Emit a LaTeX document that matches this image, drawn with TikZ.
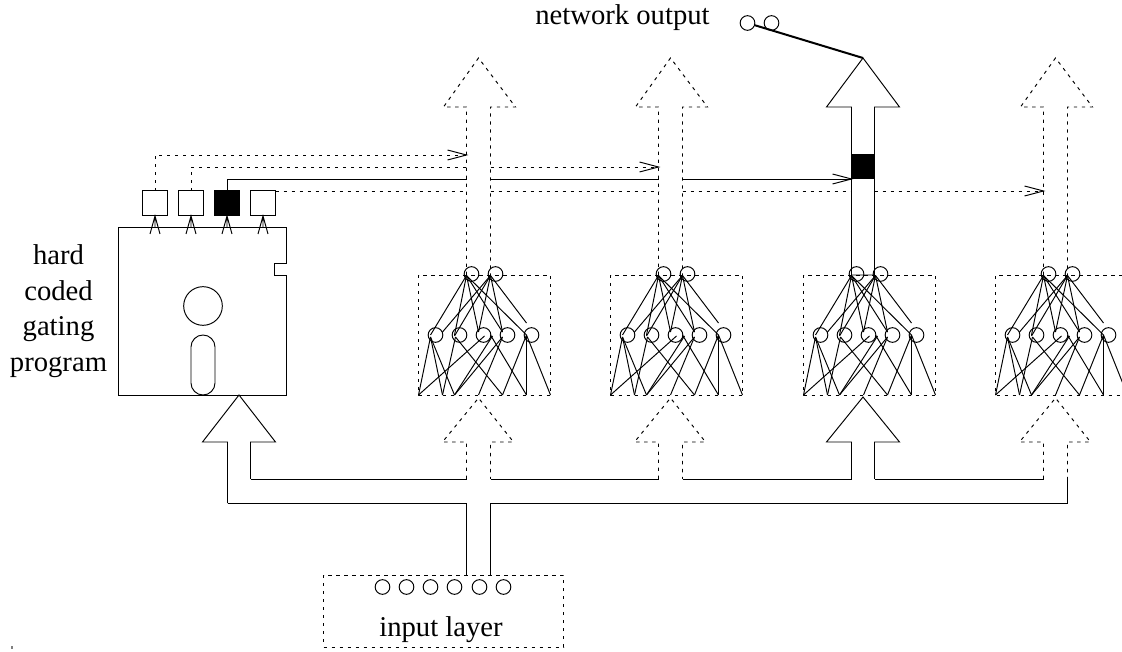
\documentclass[tikz,border=0pt]{standalone}
\usepackage{fontspec}
\setmainfont{Liberation Serif}
\tikzset{
  ln/.style={line width=0.72pt, line cap=butt, line join=miter},
  dsh/.style={ln, dash pattern=on 2.5pt off 3.5pt},
  neuron/.style={circle, draw, line width=0.72pt, minimum size=11pt, inner sep=0pt},
  sqbox/.style={draw, line width=0.8pt, minimum size=18.2pt, inner sep=0pt},
  lbl/.style={font=\fontsize{21.5pt}{26pt}\selectfont, inner sep=0pt, anchor=base}
}
\newcommand{\netblock}[2]{%
  \begin{scope}[xshift=#1*0.75pt]
    \foreach \i/\x in {a/53,b/77}{\node[neuron] (t#2\i) at (\x,274) {};}
    \foreach \i/\x in {a/17,b/41,c/65,d/89,e/113}{\node[neuron] (m#2\i) at (\x,335) {};}
    \coordinate (ta#2) at (48,275.5);
    \coordinate (tb#2) at (72,275.5);
    % upper connections
    \foreach \x/\y in {12/335,36/335,60/332,84/332,108/335}{\draw[ln] (ta#2) -- (\x,\y);}
    \foreach \x/\y in {24/332,36/336,60/332,84/332,108/323}{\draw[ln] (tb#2) -- (\x,\y);}
    % lower connections
    \foreach \ax/\ay/\bx in {12/337/0, 12/337/24, 12/337/36, 37/337/24, 37/337/84,
        66/336/0, 74/336/36, 84/337/36, 84/337/60, 72/335/108,
        108/335/84, 108/335/108, 108/335/132}{
      \draw[ln] (\ax,\ay) -- (\bx,395);
    }
  \end{scope}
}
\begin{document}
\begin{tikzpicture}[x=0.75pt,y=-0.75pt]
\useasboundingbox (-0.5,0) rectangle (1121.5,652);
% net boxes
\foreach \x in {418,610,803}{
  \draw[dsh] (\x,275) rectangle (\x+132,395);
}
\draw[dsh] (1122,275) -- (995,275) -- (995,395) -- (1122,395);
\netblock{418}{A}
\netblock{610}{B}
\netblock{803}{C}
\netblock{995}{D}
% upper arrows
\foreach \x in {466,658,1043}{
  \draw[dsh] (\x,275) -- (\x,107) -- (\x-23,107) -- (\x+12,58) -- (\x+49,107) -- (\x+24,107) -- (\x+24,275);
}
\draw[ln] (851,275) -- (851,107) -- (826,107) -- (862.5,58) -- (899,107) -- (874,107) -- (874,275) -- cycle;
% lower arrows
\foreach \x in {466,658,1043}{
  \draw[dsh] (\x,479) -- (\x,442) -- (\x-24,442) -- (\x+12,398) -- (\x+47,442) -- (\x+24,442) -- (\x+24,479);
}
\draw[ln] (851,479) -- (851,442) -- (826,442) -- (862.5,397) -- (899,442) -- (874,442) -- (874,479);
\draw[ln] (227,503) -- (227,442) -- (202,442) -- (238.5,395) -- (275,442) -- (250,442) -- (250,479);
% buses
\draw[ln] (250,479) -- (466,479) (490,479) -- (658,479) (682,479) -- (851,479) (874,479) -- (1043,479);
\draw[ln] (466,575) -- (466,503) -- (227,503);
\draw[ln] (490,575) -- (490,503) -- (1067,503) -- (1067,479);
% program disk
\draw[ln] (118,227) -- (286,227) -- (286,263) -- (274,263) -- (274,275) -- (286,275) -- (286,395) -- (118,395) -- cycle;
\node[circle,draw,line width=0.72pt,minimum size=29pt,inner sep=0pt] (hole) at (202.5,306) {};
\draw[ln,rounded corners=9pt] (190.5,335) rectangle (214.5,395);
% squares
\foreach \n/\x in {a/154.5,b/190.5,d/262.5}{\node[sqbox] (s\n) at (\x,203) {};}
\node[sqbox,fill=black] (sc) at (226.5,203) {};
\foreach \x in {154.5,190.5,226.5,262.5}{
  \draw[ln] (\x-5,234) -- (\x,216) -- (\x+5,234) (\x,216) -- (\x,227);
}
% control lines
\draw[dsh] (154.5,191) -- (154.5,155) -- (466,155);
\draw[ln] (447,150) -- (466,155) -- (447,160);
\draw[dsh] (190.5,191) -- (190.5,167) -- (466,167) (490,167) -- (658,167);
\draw[ln] (639,162) -- (658,167) -- (639,172);
\draw[ln] (226.5,191) -- (226.5,179) -- (466,179) (490,179) -- (658,179) (682,179) -- (851,179);
\draw[ln] (832,174) -- (851,179) -- (832,184);
\draw[dsh] (275,191) -- (466,191) (490,191) -- (658,191) (682,191) -- (851,191) (874,191) -- (1043,191);
\draw[ln] (1024,186) -- (1043,191) -- (1024,196);
% gate
\fill (851,154) rectangle (874,179);
% output
\node[neuron] (o1) at (747,23) {};
\node[neuron] (o2) at (771,23) {};
\coordinate (oend) at (862.5,58);
\draw[line width=1.5pt] (o1) -- (oend);
% input
\draw[dsh] (323,575) rectangle (563,647);
\foreach \i/\x in {1/382,2/406,3/430,4/454,5/479,6/503}{\node[neuron] (i\i) at (\x,587) {};}
% speck
\fill[gray] (10,646) rectangle (12,649);
% labels
\node[lbl] (netout) at (622,25) {network output};
\node[lbl] (inlab) at (440.5,636) {input layer};
\node[lbl] (l1) at (58,265) {hard};
\node[lbl] (l2) at (58,301) {coded};
\node[lbl] (l3) at (58,336) {gating};
\node[lbl] (l4) at (58,372) {program};
\end{tikzpicture}
\end{document}
